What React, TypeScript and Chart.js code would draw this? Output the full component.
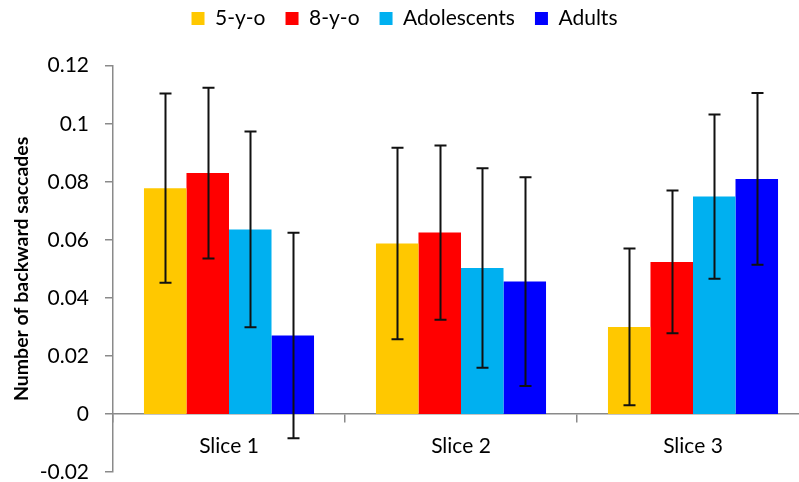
import { useEffect, useRef } from "react";
import { Chart, registerables } from "chart.js";

Chart.register(...registerables);

const CATEGORIES = ["Slice 1", "Slice 2", "Slice 3"];
const SERIES_NAMES = ["5-y-o", "8-y-o", "Adolescents", "Adults"];

const FIVE_YO = [0.0778, 0.0587, 0.03];
const EIGHT_YO = [0.083, 0.0625, 0.0524];
const ADOLESCENTS = [0.0636, 0.0503, 0.0749];
const ADULTS = [0.027, 0.0456, 0.081];

const FIVE_YO_ERR = [0.0326, 0.033, 0.027];
const EIGHT_YO_ERR = [0.0294, 0.03, 0.0246];
const ADOLESCENTS_ERR = [0.0337, 0.0344, 0.0283];
const ADULTS_ERR = [0.0354, 0.036, 0.0296];

const Y_MIN = -0.02;
const Y_MAX = 0.12;
const Y_STEP = 0.02;
const Y_TITLE = "Number of backward saccades";

const COLORS = ["#FFC800", "#FF0000", "#00B0F0", "#0000FF"];
const AXIS_COLOR = "#8a8a8a";
const FONT = "Lato, 'Open Sans', sans-serif";

const errorBarPlugin = {
  id: "errorBars",
  afterDatasetsDraw(chart: any) {
    const { ctx } = chart;
    const yScale = chart.scales.y;
    ctx.save();
    ctx.strokeStyle = "#111111";
    ctx.lineWidth = 2;
    chart.data.datasets.forEach((ds: any, di: number) => {
      const meta = chart.getDatasetMeta(di);
      if (meta.hidden) return;
      meta.data.forEach((bar: any, i: number) => {
        const v = ds.data[i];
        const e = ds.errors[i];
        const x = Math.round(bar.x) + 0.5;
        const yTop = yScale.getPixelForValue(v + e);
        const yBot = yScale.getPixelForValue(v - e);
        ctx.beginPath();
        ctx.moveTo(x, yTop);
        ctx.lineTo(x, yBot);
        ctx.moveTo(x - 6, yTop);
        ctx.lineTo(x + 6, yTop);
        ctx.moveTo(x - 6, yBot);
        ctx.lineTo(x + 6, yBot);
        ctx.stroke();
      });
    });
    ctx.restore();
  },
};

const legendSpacer = {
  id: "legendSpacer",
  beforeLayout(chart: any) {
    const legend = chart.legend;
    if (!legend || legend.__patched) return;
    const fit = legend.fit;
    legend.fit = function (this: any) {
      fit.call(this);
      this.height = 77.7;
    };
    legend.__patched = true;
  },
};

export default function App() {
  const ref = useRef<HTMLCanvasElement>(null);

  useEffect(() => {
    const series = [FIVE_YO, EIGHT_YO, ADOLESCENTS, ADULTS];
    const errs = [FIVE_YO_ERR, EIGHT_YO_ERR, ADOLESCENTS_ERR, ADULTS_ERR];
    const chart = new Chart(ref.current!, {
      type: "bar",
      data: {
        labels: CATEGORIES,
        datasets: SERIES_NAMES.map((name, i) => ({
          label: name,
          data: series[i],
          errors: errs[i],
          backgroundColor: COLORS[i],
          borderWidth: 0,
          categoryPercentage: 0.733,
          barPercentage: 1,
        })) as any,
      },
      options: {
        animation: false,
        responsive: true,
        maintainAspectRatio: false,
        layout: { padding: { top: -12, right: 11, bottom: 10, left: 0 } },
        plugins: {
          tooltip: { enabled: false },
          legend: {
            position: "top",
            labels: {
              boxWidth: 13,
              boxHeight: 13,
              padding: 20,
              color: "#000",
              font: { family: FONT, size: 21 },
            },
          },
        },
        scales: {
          x: {
            type: "category",
            position: { y: 0 } as any,
            offset: true,
            grid: {
              display: true,
              drawOnChartArea: false,
              drawTicks: true,
              tickLength: 8,
              color: AXIS_COLOR,
              lineWidth: 1.5,
              offset: true,
            },
            border: { display: true, color: AXIS_COLOR, width: 1.5 },
            ticks: {
              color: "#000",
              padding: 12,
              font: { family: FONT, size: 21 },
            },
          },
          y: {
            min: Y_MIN,
            max: Y_MAX,
            afterFit: (scale: any) => {
              scale.width = 113;
              scale.paddingTop = 10;
              scale.paddingBottom = 10;
            },
            grid: {
              display: true,
              drawOnChartArea: false,
              drawTicks: true,
              tickLength: 8,
              color: AXIS_COLOR,
              lineWidth: 1.5,
            },
            border: { display: true, color: AXIS_COLOR, width: 1.5 },
            ticks: {
              stepSize: Y_STEP,
              color: "#000",
              padding: 16,
              font: { family: FONT, size: 21, lineHeight: 1 },
              callback: (v: any) => String(Number(Number(v).toFixed(2))),
            },
            title: {
              display: true,
              text: Y_TITLE,
              color: "#000",
              padding: { top: 10, bottom: 0 },
              font: { family: FONT, size: 19.5, weight: "bold" },
            },
          },
        },
      },
      plugins: [errorBarPlugin, legendSpacer],
    });
    return () => chart.destroy();
  }, []);

  return (
    <div
      style={{
        position: "fixed",
        left: 0,
        top: 0,
        width: 799,
        height: 482,
        overflow: "hidden",
        background: "#fff",
      }}
    >
      <div style={{ position: "relative", width: 820, height: 482 }}>
        <canvas ref={ref} />
      </div>
    </div>
  );
}
